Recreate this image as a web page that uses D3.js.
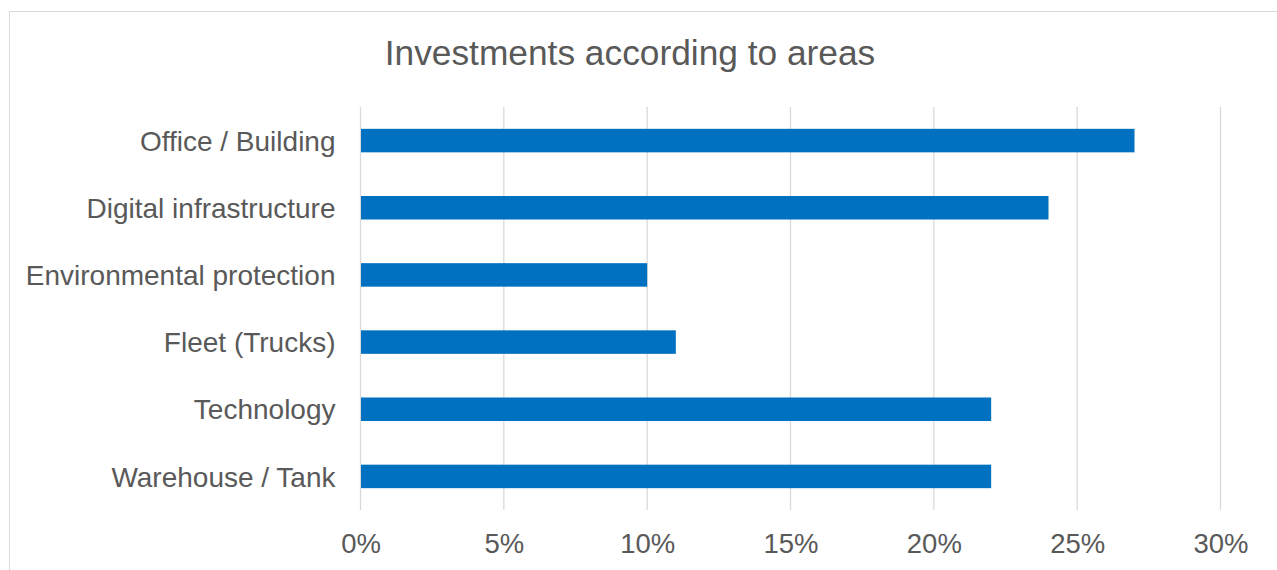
<!DOCTYPE html>
<html>
<head>
<meta charset="utf-8">
<script src="https://cdn.jsdelivr.net/npm/d3@7"></script>
<style>
  html, body { margin: 0; padding: 0; background: #fff; }
  svg { display: block; font-family: "Liberation Sans", Arial, sans-serif; }
</style>
</head>
<body>
<svg id="chart" width="1277" height="570"></svg>
<script>
// Share of investments by area (percent)
const categories = [
  "Office / Building",
  "Digital infrastructure",
  "Environmental protection",
  "Fleet (Trucks)",
  "Technology",
  "Warehouse / Tank"
];
const values = [27, 24, 10, 11, 22, 22];
const tickValues = [0, 5, 10, 15, 20, 25, 30];
const title = "Investments according to areas";

const svg = d3.select("#chart");
const W = 1277, H = 570;
const plot = { left: 360.5, right: 1220.5, top: 107, bottom: 510 };
const textColor = "#595959";
const gridColor = "#d9d9d9";
const barColor = "#0070c0";

// Chart frame
svg.append("rect")
  .attr("x", 9.5).attr("y", 11.5)
  .attr("width", W).attr("height", H)
  .attr("fill", "#fff")
  .attr("stroke", gridColor)
  .attr("stroke-width", 1);

const x = d3.scaleLinear().domain([0, 30]).range([plot.left, plot.right]);
const y = d3.scaleBand()
  .domain(categories)
  .range([plot.top, plot.bottom])
  .paddingInner(0.65)
  .paddingOuter(0.325);

// Vertical gridlines
svg.append("g")
  .selectAll("line")
  .data(tickValues)
  .join("line")
  .attr("x1", d => x(d)).attr("x2", d => x(d))
  .attr("y1", plot.top).attr("y2", plot.bottom)
  .attr("stroke", gridColor)
  .attr("stroke-width", 1.3);

// Bars
svg.append("g")
  .selectAll("rect")
  .data(categories)
  .join("rect")
  .attr("x", x(0) + 0.5)
  .attr("y", d => y(d))
  .attr("width", (d, i) => x(values[i]) - x(0) - 0.5)
  .attr("height", y.bandwidth())
  .attr("fill", barColor);

// Bottom axis labels
const xAxis = d3.axisBottom(x)
  .tickValues(tickValues)
  .tickFormat(d => d + "%")
  .tickSize(0)
  .tickPadding(0);
const gx = svg.append("g")
  .attr("transform", `translate(0, ${plot.bottom})`)
  .call(xAxis);
gx.select(".domain").remove();
gx.selectAll("text")
  .attr("y", 43)
  .attr("dy", 0)
  .attr("fill", textColor)
  .attr("font-size", 27.5)
  .attr("font-family", "'Liberation Sans', Arial, sans-serif");

// Category labels
const yAxis = d3.axisLeft(y).tickSize(0).tickPadding(0);
const gy = svg.append("g")
  .attr("transform", `translate(${plot.left - 25}, 0)`)
  .call(yAxis);
gy.select(".domain").remove();
gy.selectAll("text")
  .attr("x", 0)
  .attr("dy", "0.36em")
  .attr("fill", textColor)
  .attr("font-size", 28)
  .attr("font-family", "'Liberation Sans', Arial, sans-serif");

// Title
svg.append("text")
  .attr("x", 630)
  .attr("y", 65)
  .attr("text-anchor", "middle")
  .attr("fill", textColor)
  .attr("font-size", 35.3)
  .text(title);
</script>
</body>
</html>
